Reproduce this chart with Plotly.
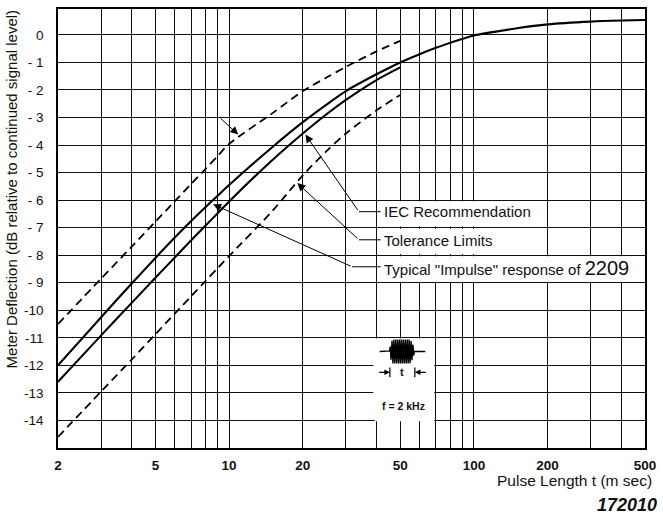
import numpy as np
import plotly.graph_objects as go

# ---------------- data ----------------
pulse_ms = [2, 3, 4, 5, 6, 7, 8, 9, 10, 15, 20, 25, 30, 40, 50]
iec_db = [-12.6, -10.91, -9.73, -8.82, -8.08, -7.46, -6.93, -6.47, -6.05, -4.55, -3.58, -2.88, -2.36, -1.64, -1.18]
tol_upper_db = [-10.5, -8.85, -7.69, -6.78, -6.04, -5.41, -4.87, -4.39, -3.96, -2.85, -2.04, -1.55, -1.16, -0.6, -0.22]
tol_lower_db = [-14.6, -12.95, -11.79, -10.87, -10.12, -9.49, -8.94, -8.46, -8.03, -6.4, -5.1, -4.22, -3.58, -2.74, -2.18]

b2209_ms = [2, 3, 4, 5, 6, 7, 8, 9, 10, 15, 20, 25, 30, 40, 50, 60, 70, 80, 90, 100, 150, 200, 300, 400, 500]
b2209_db = [-12.0, -10.25, -9.03, -8.1, -7.36, -6.76, -6.26, -5.83, -5.45, -4.08, -3.17, -2.53, -2.04, -1.43,
            -1.0, -0.7, -0.47, -0.29, -0.14, -0.02, 0.24, 0.38, 0.48, 0.52, 0.54]

grid_x = [2, 3, 4, 5, 6, 7, 8, 9, 10, 20, 30, 40, 50, 60, 70, 80, 90, 100, 200, 300, 400, 500]
x_labelled = [2, 5, 10, 20, 50, 100, 200, 500]
y_ticks = list(range(-14, 1))

FONT = "Liberation Sans, Arial, sans-serif"
INK = "#111111"

x_text = [f"<b>{v}</b>" if v in x_labelled else "" for v in grid_x]
y_text = ["0" if v == 0 else (f"-{abs(v)}" if abs(v) >= 10 else f"- {abs(v)}") for v in y_ticks]

fig = go.Figure()

line_solid = dict(color="black", width=2.1, shape="spline", smoothing=0.8)
line_dash = dict(color="black", width=1.8, dash="8px,5px", shape="spline", smoothing=0.8)

fig.add_trace(go.Scatter(x=pulse_ms, y=tol_upper_db, mode="lines", line=line_dash,
                         name="Tolerance Limits (upper)", showlegend=False))
fig.add_trace(go.Scatter(x=pulse_ms, y=tol_lower_db, mode="lines", line=line_dash,
                         name="Tolerance Limits (lower)", showlegend=False))
fig.add_trace(go.Scatter(x=pulse_ms, y=iec_db, mode="lines", line=line_solid,
                         name="IEC Recommendation", showlegend=False))
fig.add_trace(go.Scatter(x=b2209_ms, y=b2209_db, mode="lines", line=line_solid,
                         name="Typical 2209", showlegend=False))

# ---------------- inset pulse icon (schematic tone burst) ----------------
u = np.linspace(0, 1, 900)
env = np.clip(np.minimum(u / 0.12, (1 - u) / 0.18), 0, 1) ** 0.5
burst_x = 15 + 25 * u
burst_y = 70 + 12 * env * np.sin(2 * np.pi * 13 * u)
icon_x = np.concatenate([[5], burst_x, [51]])
icon_y = np.concatenate([[70], burst_y, [70]])
fig.add_trace(go.Scatter(x=icon_x, y=icon_y, mode="lines", xaxis="x2", yaxis="y2",
                         line=dict(color="black", width=1.4), showlegend=False, hoverinfo="skip"))

# ---------------- white label areas (hide grid) ----------------
shapes = []
for (y0, y1, x0, x1) in [(-6.96, -6.04, 40.8, 130), (-7.96, -7.04, 40.8, 130),
                         (-8.96, -8.04, 40.8, 497), (-13.96, -11.04, 38.8, 68)]:
    shapes.append(dict(type="rect", xref="x", yref="y", x0=x0, x1=x1, y0=y0, y1=y1,
                       fillcolor="white", line=dict(width=0), layer="between"))

# leader horizontal segments (shapes on a log axis take data values)
leaders = [(33.9, -6.42), (33.9, -7.44), (31.8, -8.42)]
for (xe, ye) in leaders:
    shapes.append(dict(type="line", xref="x", yref="y", x0=xe, x1=41.6, y0=ye, y1=ye,
                       line=dict(color="black", width=1)))

# icon bars
for xb in [15.3, 40.5]:
    shapes.append(dict(type="line", xref="x2", yref="y2", x0=xb, x1=xb, y0=44, y1=54,
                       line=dict(color="black", width=1.2)))

lg = np.log10
annotations = []
# arrows: tip <- tail (annotations on log axes use log10 positions)
arrows = [((20.5, -3.62), (33.9, -6.42)),
          ((19.0, -5.38), (33.9, -7.44)),
          ((10.9, -3.62), (9.1, -2.98)),
          ((8.6, -6.15), (31.8, -8.42))]
for (tip, tail) in arrows:
    annotations.append(dict(x=lg(tip[0]), y=tip[1], ax=lg(tail[0]), ay=tail[1],
                            xref="x", yref="y", axref="x", ayref="y", text="",
                            showarrow=True, arrowhead=2, arrowsize=1.6, arrowwidth=1,
                            arrowcolor="black", standoff=0))

labels = [("IEC Recommendation", -6.43), ("Tolerance Limits", -7.45),
          ("Typical \"Impulse\" response of <span style='font-size:20px'>2209</span>", -8.45)]
for (txt, yy) in labels:
    annotations.append(dict(x=lg(42.0), y=yy, xref="x", yref="y", text=txt, showarrow=False,
                            xanchor="left", yanchor="middle",
                            font=dict(family=FONT, size=15, color=INK)))

# icon arrows and texts
annotations.append(dict(x=15.3, y=49, ax=3, ay=49, xref="x2", yref="y2", axref="x2", ayref="y2",
                        text="", showarrow=True, arrowhead=2, arrowsize=1, arrowwidth=1.1,
                        arrowcolor="black", standoff=0))
annotations.append(dict(x=40.5, y=49, ax=53, ay=49, xref="x2", yref="y2", axref="x2", ayref="y2",
                        text="", showarrow=True, arrowhead=2, arrowsize=1, arrowwidth=1.1,
                        arrowcolor="black", standoff=0))
annotations.append(dict(x=28, y=49, xref="x2", yref="y2", text="<b>t</b>", showarrow=False,
                        font=dict(family=FONT, size=11, color=INK)))
annotations.append(dict(x=29, y=15, xref="x2", yref="y2", text="<b>f = 2 kHz</b>", showarrow=False,
                        font=dict(family=FONT, size=10.5, color=INK)))

# axis titles & figure number
annotations.append(dict(x=1.016, y=-0.073, xref="paper", yref="paper", xanchor="right", yanchor="middle",
                        text="Pulse Length t (m sec)", showarrow=False,
                        font=dict(family=FONT, size=15.5, color=INK)))
annotations.append(dict(x=1.024, y=-0.129, xref="paper", yref="paper", xanchor="right", yanchor="middle",
                        text="<b><i>172010</i></b>", showarrow=False,
                        font=dict(family=FONT, size=18, color=INK)))
annotations.append(dict(x=-0.0776, y=0.59, xref="paper", yref="paper", xanchor="center", yanchor="middle",
                        text="Meter Deflection (dB relative to continued signal level)", textangle=-90,
                        showarrow=False, font=dict(family=FONT, size=15, color=INK)))

fig.update_layout(
    width=663, height=514, autosize=False,
    margin=dict(l=58, r=12, t=7, b=66),
    paper_bgcolor="white", plot_bgcolor="white",
    showlegend=False,
    font=dict(family=FONT, color=INK),
    xaxis=dict(type="log", range=[lg(2), lg(500)], tickvals=grid_x, ticktext=x_text,
               showgrid=True, gridcolor=INK, gridwidth=1, ticks="", zeroline=False,
               showline=True, mirror=True, linecolor="black", linewidth=1.5,
               tickfont=dict(family=FONT, size=13.5, color=INK), ticklabelstandoff=4),
    yaxis=dict(range=[-15, 0.94], tickvals=y_ticks, ticktext=y_text,
               showgrid=True, gridcolor=INK, gridwidth=1, ticks="", zeroline=False,
               showline=True, mirror=True, linecolor="black", linewidth=1.5,
               tickfont=dict(family=FONT, size=13.5, color=INK), ticklabelstandoff=10),
    xaxis2=dict(domain=[0.5396, 0.6408], range=[0, 60], visible=False, anchor="y2", fixedrange=True),
    yaxis2=dict(domain=[0.0612, 0.2494], range=[0, 83], visible=False, anchor="x2", fixedrange=True),
    shapes=shapes,
    annotations=annotations,
)

fig.write_html("out.html")
